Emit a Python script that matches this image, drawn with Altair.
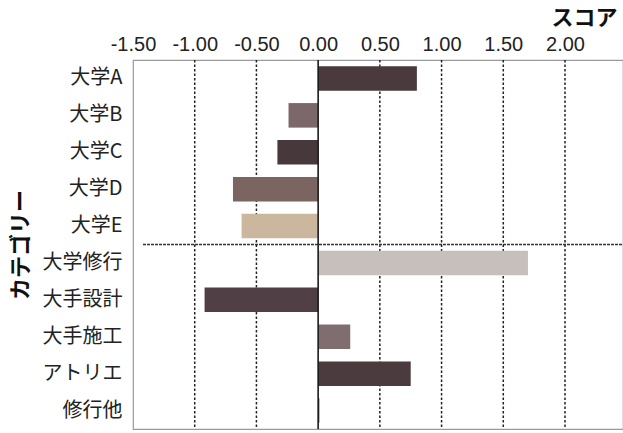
import altair as alt
import pandas as pd

# Category scores (horizontal bars)
categories = ["大学A", "大学B", "大学C", "大学D", "大学E",
              "大学修行", "大手設計", "大手施工", "アトリエ", "修行他"]
scores = [0.80, -0.24, -0.33, -0.69, -0.62, 1.70, -0.92, 0.26, 0.75, 0.01]
bar_colors = ["#4b3a3d", "#7c686a", "#47383b", "#7a6560", "#cbb79e",
              "#c6bfbc", "#503f44", "#806d70", "#4b3b3e", "#4b3b3e"]

tick_values = [-1.5, -1.0, -0.5, 0.0, 0.5, 1.0, 1.5, 2.0]
grid_values = [-1.0, -0.5, 0.5, 1.0, 1.5, 2.0]

W, H = 490, 369
NUM_FONT = "Liberation Sans"
JP_FONT = "Noto Sans CJK JP"

df = pd.DataFrame({"category": categories, "score": scores, "color": bar_colors})
grid_df = pd.DataFrame({"g": grid_values})
zero_df = pd.DataFrame({"z": [0.0]})

x_scale = alt.Scale(domain=[-1.5, 2.47], nice=False, zero=False)
y_scale = alt.Scale(domain=categories, paddingInner=0.335, paddingOuter=0.1675)

bars = alt.Chart(df).mark_bar().encode(
    x=alt.X("score:Q", scale=x_scale,
            axis=alt.Axis(orient="top", values=tick_values,
                          labelExpr="(datum.value < 0 ? '-' : '') + format(abs(datum.value), '.2f')",
                          labelOverlap=False, labelFlush=False, labelBound=False,
                          grid=False, ticks=False, domain=False,
                          labelFont=NUM_FONT, labelFontSize=20,
                          labelColor="#222222", labelPadding=6,
                          title="スコア", titleFont=JP_FONT, titleFontSize=22,
                          titleFontWeight="bold", titleColor="#111111",
                          titleAlign="right", titleX=W - 6, titleY=-31)),
    x2=alt.datum(0),
    y=alt.Y("category:N", scale=y_scale, sort=categories,
            axis=alt.Axis(ticks=False, domain=False,
                          labelFont=JP_FONT, labelFontSize=20,
                          labelColor="#222222", labelPadding=11,
                          title="カテゴリー", titleFont=JP_FONT, titleFontSize=22,
                          titleFontWeight="bold", titleColor="#111111",
                          titleAngle=270, titleAlign="center",
                          titleBaseline="middle", titleX=-113, titleY=H / 2)),
    color=alt.Color("color:N", scale=None),
)

grid = alt.Chart(grid_df).mark_rule(
    color="#222222", strokeDash=[2.5, 2], strokeWidth=1.5
).encode(x=alt.X("g:Q", scale=x_scale))

zero = alt.Chart(zero_df).mark_rule(
    color="#1a1a1a", strokeWidth=1.6
).encode(x=alt.X("z:Q", scale=x_scale))

# Separator between university groups and career groups
sep = alt.Chart(zero_df).mark_rule(
    color="#333333", strokeDash=[3, 1], strokeWidth=1.3
).encode(x=alt.value(10), x2=alt.value(W), y=alt.value(H / 2))

chart = alt.layer(grid, bars, zero, sep).properties(
    width=W, height=H,
    autosize=alt.AutoSizeParams(type="none"),
    padding={"left": 133, "top": 60, "right": 0, "bottom": 4},
    background="white",
).configure_view(stroke="#9a9a9a", strokeWidth=1.2)

chart.save("out.html", embed_options={"renderer": "svg", "actions": False})
